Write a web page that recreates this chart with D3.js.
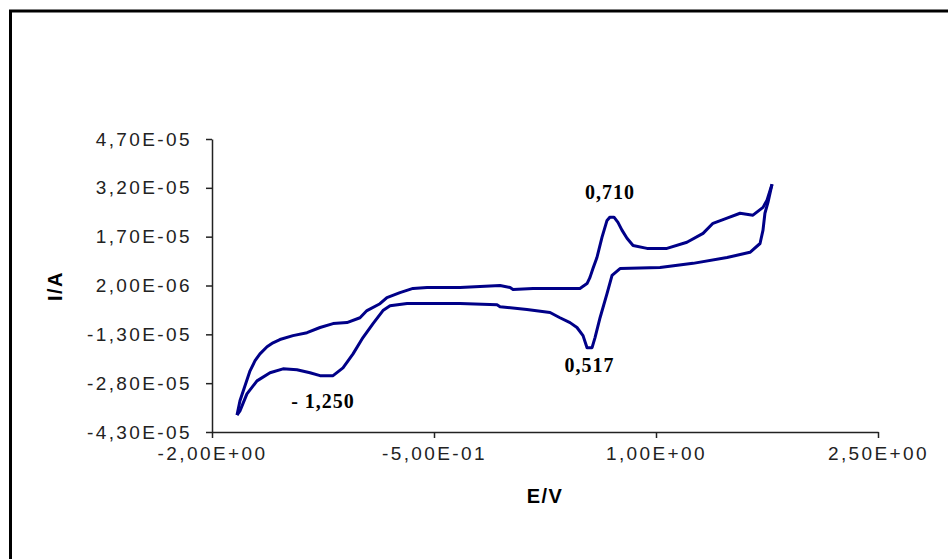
<!DOCTYPE html>
<html>
<head>
<meta charset="utf-8">
<script src="https://cdn.jsdelivr.net/npm/d3@7"></script>
<style>
  body { margin: 0; background: #fff; }
</style>
</head>
<body>
<script>
// forward (anodic) scan, left to right
var fwdE = [-1.831, -1.811, -1.777, -1.743, -1.709, -1.676, -1.628, -1.588, -1.541, -1.453,
            -1.358, -1.270, -1.182, -1.088, -1.000, -0.953, -0.865, -0.818, -0.730, -0.642,
            -0.547, -0.324, -0.054, 0.014, 0.034, 0.169, 0.486, 0.534, 0.554, 0.574,
            0.601, 0.635, 0.669, 0.689, 0.716, 0.743, 0.770, 0.804, 0.845, 0.939,
            1.074, 1.209, 1.318, 1.385, 1.480, 1.568, 1.655, 1.723, 1.750, 1.784];
var fwdI = [-3.78e-5, -3.34e-5, -2.88e-5, -2.42e-5, -2.11e-5, -1.90e-5, -1.68e-5, -1.56e-5, -1.46e-5, -1.34e-5,
            -1.25e-5, -1.09e-5, -0.97e-5, -0.94e-5, -0.79e-5, -0.57e-5, -0.36e-5, -0.17e-5, -0.02e-5, 0.11e-5,
            0.14e-5, 0.14e-5, 0.20e-5, 0.14e-5, 0.08e-5, 0.11e-5, 0.11e-5, 0.26e-5, 0.45e-5, 0.72e-5,
            1.06e-5, 1.68e-5, 2.20e-5, 2.30e-5, 2.30e-5, 2.14e-5, 1.90e-5, 1.65e-5, 1.43e-5, 1.34e-5,
            1.34e-5, 1.53e-5, 1.80e-5, 2.11e-5, 2.27e-5, 2.42e-5, 2.36e-5, 2.60e-5, 2.82e-5, 3.31e-5];

// reverse (cathodic) scan, right to left
var revE = [1.784, 1.757, 1.736, 1.723, 1.703, 1.635, 1.480, 1.250, 1.027, 0.757,
            0.703, 0.669, 0.622, 0.588, 0.568, 0.534, 0.507, 0.466, 0.419, 0.351,
            0.284, 0.128, -0.054, -0.074, -0.324, -0.682, -0.797, -0.845, -0.912, -0.980,
            -1.047, -1.115, -1.182, -1.270, -1.338, -1.426, -1.520, -1.608, -1.696, -1.764,
            -1.811, -1.831];
var revI = [3.31e-5, 2.76e-5, 2.42e-5, 1.90e-5, 1.49e-5, 1.22e-5, 1.06e-5, 0.88e-5, 0.75e-5, 0.72e-5,
            0.51e-5, -0.05e-5, -0.79e-5, -1.40e-5, -1.71e-5, -1.71e-5, -1.34e-5, -1.09e-5, -0.94e-5, -0.79e-5,
            -0.63e-5, -0.54e-5, -0.45e-5, -0.39e-5, -0.35e-5, -0.35e-5, -0.42e-5, -0.57e-5, -0.97e-5, -1.40e-5,
            -1.90e-5, -2.33e-5, -2.57e-5, -2.57e-5, -2.48e-5, -2.39e-5, -2.36e-5, -2.48e-5, -2.73e-5, -3.13e-5,
            -3.65e-5, -3.78e-5];

var xTicks = [-2, -0.5, 1, 2.5];
var yTicks = [-4.3e-5, -2.8e-5, -1.3e-5, 2e-6, 1.7e-5, 3.2e-5, 4.7e-5];

// peak labels: [potential, current, text]
var peakE = [0.69, 0.55, -1.25];
var peakI = [2.85e-5, -2.45e-5, -3.55e-5];
var peakText = ["0,710", "0,517", "- 1,250"];

var width = 948, height = 559;

var svg = d3.select("body").append("svg")
            .attr("width", width)
            .attr("height", height);

// outer frame (only top and left edges show)
svg.append("rect")
   .attr("x", 10.5).attr("y", 11)
   .attr("width", 1000).attr("height", 600)
   .attr("fill", "#fff")
   .attr("stroke", "#000")
   .attr("stroke-width", 3);

var x = d3.scaleLinear().domain([-2, 2.5]).range([212, 878]);
var y = d3.scaleLinear().domain([-4.3e-5, 4.7e-5]).range([432, 139]);

var sci = function(v){
    var parts = v.toExponential(2).split("e");
    var ex = +parts[1];
    var pad = ("0" + Math.abs(ex)).slice(-2);
    return parts[0].replace(".", ",") + "E" + (ex < 0 ? "-" : "+") + pad;
};

var tickFont = function(g){
    g.selectAll("text")
     .attr("fill", "#222")
     .style("font-family", "'Liberation Sans', Arial, sans-serif")
     .style("font-size", "19px")
     .style("letter-spacing", "2.4px");
    g.select(".domain").attr("stroke", "#222").attr("stroke-width", 1.5);
    g.selectAll(".tick line").attr("stroke", "#222").attr("stroke-width", 1.5);
};

svg.append("g")
   .attr("transform", "translate(212,0)")
   .call(d3.axisLeft(y).tickValues(yTicks).tickFormat(sci).tickSize(6).tickSizeOuter(0).tickPadding(14))
   .call(tickFont);

svg.append("g")
   .attr("transform", "translate(0,432)")
   .call(d3.axisBottom(x).tickValues(xTicks).tickFormat(sci).tickSize(6).tickSizeOuter(0).tickPadding(9))
   .call(tickFont);

// axis titles
svg.append("text")
   .attr("x", 545).attr("y", 503)
   .attr("text-anchor", "middle")
   .style("font-family", "'Liberation Sans', Arial, sans-serif")
   .style("font-weight", "bold")
   .style("font-size", "20px")
   .style("letter-spacing", "1.5px")
   .text("E/V");

svg.append("text")
   .attr("transform", "translate(62,286) rotate(-90)")
   .attr("text-anchor", "middle")
   .style("font-family", "'Liberation Sans', Arial, sans-serif")
   .style("font-weight", "bold")
   .style("font-size", "20px")
   .style("letter-spacing", "1.5px")
   .text("I/A");

var line = d3.line()
    .x(function(d){ return x(d[0]); })
    .y(function(d){ return y(d[1]); });

var branches = [d3.zip(fwdE, fwdI), d3.zip(revE, revI)];
svg.append("g").selectAll("path")
   .data(branches).enter().append("path")
   .attr("d", line)
   .attr("fill", "none")
   .attr("stroke", "#000088")
   .attr("stroke-width", 3)
   .attr("stroke-linejoin", "round");

svg.append("g").selectAll("text")
   .data(d3.range(peakE.length)).enter().append("text")
   .attr("x", function(i){ return x(peakE[i]); })
   .attr("y", function(i){ return y(peakI[i]); })
   .attr("text-anchor", "middle")
   .style("font-family", "'Liberation Serif', 'Times New Roman', serif")
   .style("font-weight", "bold")
   .style("font-size", "20px")
   .style("letter-spacing", "1px")
   .text(function(i){ return peakText[i]; });
</script>
</body>
</html>
